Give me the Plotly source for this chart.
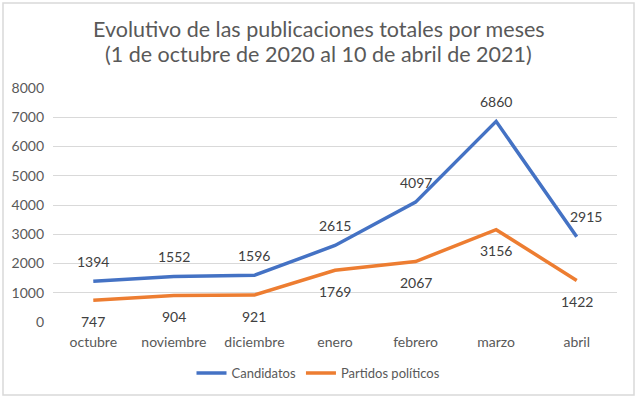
import plotly.graph_objects as go

meses = ["octubre", "noviembre", "diciembre", "enero", "febrero", "marzo", "abril"]
candidatos = [1394, 1552, 1596, 2615, 4097, 6860, 2915]
partidos = [747, 904, 921, 1769, 2067, 3156, 1422]
y_ticks = [0, 1000, 2000, 3000, 4000, 5000, 6000, 7000, 8000]
titulo = ["Evolutivo de las publicaciones totales por meses",
          "(1 de octubre de 2020 al 10 de abril de 2021)"]

BLUE = "#4472C4"
ORANGE = "#ED7D31"
FONT = "Lato"
TXT = "#595959"

L, R, T, B = 53, 20, 88, 77
W, H = 637, 399
PW, PH = W - L - R, H - T - B

fig = go.Figure()
fig.add_trace(go.Scatter(x=meses, y=candidatos, mode="lines", name="Candidatos",
                         line=dict(color=BLUE, width=3.5)))
fig.add_trace(go.Scatter(x=meses, y=partidos, mode="lines", name="Partidos políticos",
                         line=dict(color=ORANGE, width=3.5)))

annotations = []
n = len(meses)
for i, (m, v) in enumerate(zip(meses, candidatos)):
    annotations.append(dict(x=m, y=v, text=str(v), showarrow=False, yshift=20,
                            xshift=9 if i == n - 1 else 0,
                            font=dict(family=FONT, size=14, color="#404040")))
for m, v in zip(meses, partidos):
    annotations.append(dict(x=m, y=v, text=str(v), showarrow=False, yshift=-21,
                            font=dict(family=FONT, size=14, color="#404040")))
# title lines (tight line spacing like the original)
for line, ypix in zip(titulo, [29, 54]):
    annotations.append(dict(xref="paper", yref="paper", x=(W / 2 - L) / PW,
                            y=1 + (T - ypix) / PH, text=line, showarrow=False,
                            xanchor="center", yanchor="middle",
                            font=dict(family=FONT, size=21.5, color=TXT)))

fig.update_layout(
    width=W, height=H,
    paper_bgcolor="white", plot_bgcolor="white",
    margin=dict(l=L, r=R, t=T, b=B, autoexpand=False),
    showlegend=True,
    legend=dict(orientation="h", x=(W / 2 - L) / PW, xanchor="center",
                y=-(373 - (H - B)) / PH, yanchor="middle",
                font=dict(family=FONT, size=13, color=TXT)),
    annotations=annotations,
)
fig.update_xaxes(type="category", range=[-0.5, n - 0.5], showgrid=False,
                 showline=False, zeroline=False, ticks="", ticklabelstandoff=10,
                 tickfont=dict(family=FONT, size=14, color=TXT))
fig.update_yaxes(range=[0, 8000], tickvals=y_ticks, showgrid=True, gridcolor="#D9D9D9",
                 gridwidth=1, zeroline=False, showline=False, ticks="",
                 ticklabelstandoff=8, tickfont=dict(family=FONT, size=14, color=TXT))

# outer chart border
fig.add_shape(type="rect", xref="paper", yref="paper",
              x0=-(L - 3) / PW, x1=1 + (R - 3) / PW,
              y0=-(B - 4) / PH, y1=1 + (T - 3) / PH,
              line=dict(color="#D9D9D9", width=1.5), layer="below")

fig.write_html("out.html", config={"displayModeBar": False},
               post_script="document.body.style.margin='0';")
